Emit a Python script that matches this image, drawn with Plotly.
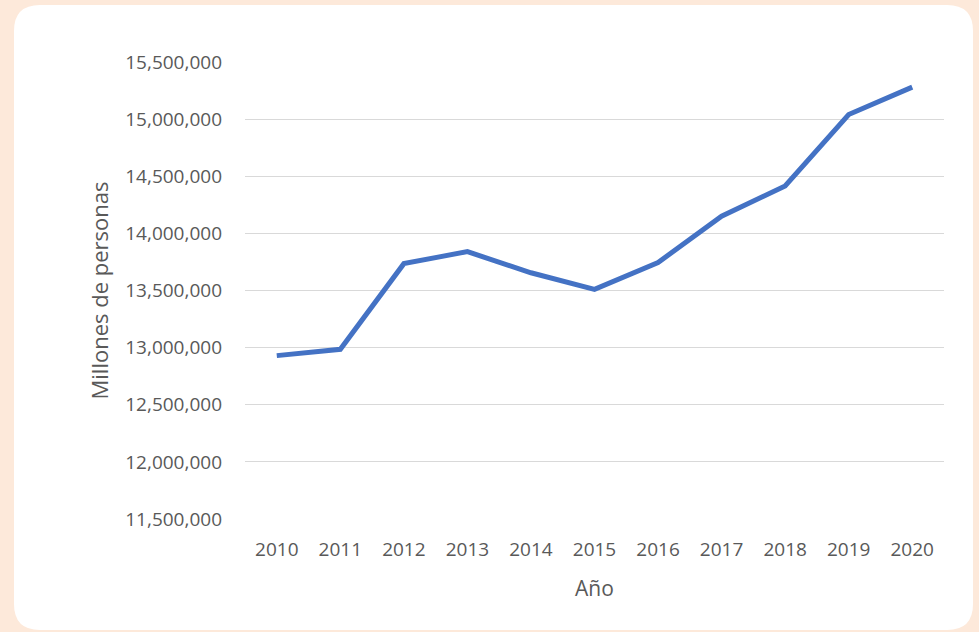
import plotly.graph_objects as go

years = ["2010", "2011", "2012", "2013", "2014", "2015", "2016", "2017", "2018", "2019", "2020"]
personas = [12930000, 12985000, 13735000, 13840000, 13655000, 13510000, 13745000, 14150000, 14415000, 15040000, 15280000]
y_ticks = [11500000, 12000000, 12500000, 13000000, 13500000, 14000000, 14500000, 15000000, 15500000]

W, H = 979, 632
L, R, T, B = 245, 944, 62, 519

def px(x):
    return (x - L) / (R - L)

def py(y):
    return (B - y) / (B - T)

# rounded white panel
x0, y0, x1, y1, r = 14, 5, 973, 630, 26
path = (
    f"M {px(x0 + r)} {py(y0)} L {px(x1 - r)} {py(y0)} "
    f"Q {px(x1)} {py(y0)} {px(x1)} {py(y0 + r)} "
    f"L {px(x1)} {py(y1 - r)} Q {px(x1)} {py(y1)} {px(x1 - r)} {py(y1)} "
    f"L {px(x0 + r)} {py(y1)} Q {px(x0)} {py(y1)} {px(x0)} {py(y1 - r)} "
    f"L {px(x0)} {py(y0 + r)} Q {px(x0)} {py(y0)} {px(x0 + r)} {py(y0)} Z"
)

fig = go.Figure()
fig.add_trace(go.Scatter(
    x=years, y=personas, mode="lines",
    line=dict(color="#4472C4", width=5),
    hoverinfo="skip",
))

font = "'Open Sans', Lato, sans-serif"
fig.update_layout(
    width=W, height=H,
    margin=dict(l=L, r=W - R, t=T, b=H - B),
    paper_bgcolor="#FDE9DA",
    plot_bgcolor="rgba(0,0,0,0)",
    showlegend=False,
    font=dict(family=font, color="#595959", size=19),
    shapes=[dict(type="path", path=path, xref="paper", yref="paper",
                 fillcolor="white", line=dict(width=0), layer="below")],
    xaxis=dict(
        type="category", range=[-0.5, 10.5],
        showgrid=False, zeroline=False, showline=False,
        ticks="", ticklabelstandoff=17,
        tickfont=dict(size=19, color="#595959"),
        title=dict(text="Año", font=dict(size=21, color="#595959"), standoff=20),
    ),
    yaxis=dict(
        range=[11500000, 15500000],
        tickvals=y_ticks,
        tickformat=",d",
        showgrid=True, gridcolor="#D9D9D9", gridwidth=1.2,
        zeroline=False, showline=False,
        ticks="", ticklabelstandoff=22,
        tickfont=dict(size=19, color="#595959"),
        title=dict(text="Millones de personas", font=dict(size=22, color="#595959"), standoff=10),
    ),
)

fig.write_html("out.html")
